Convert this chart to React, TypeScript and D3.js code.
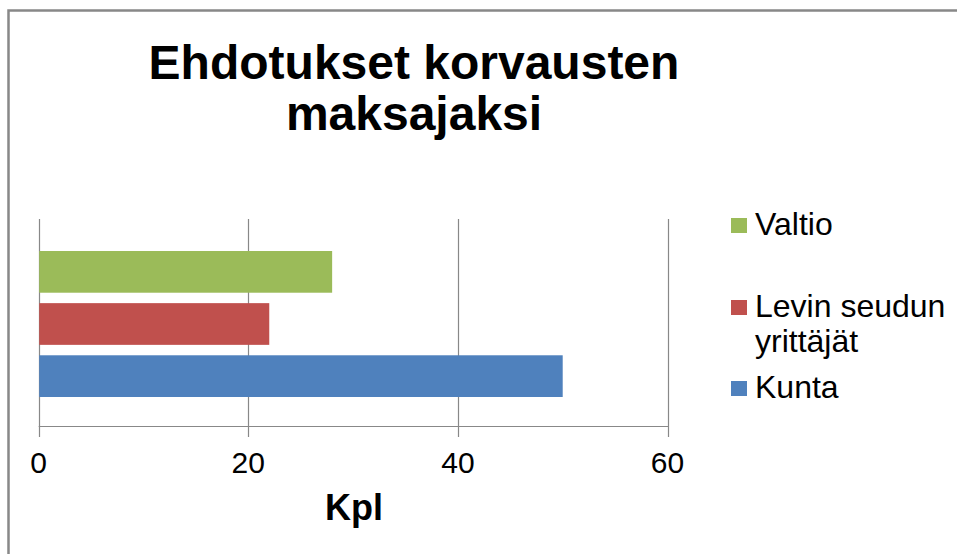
import React, { useRef, useEffect } from 'react';
import * as d3 from 'd3';

// data
const series = ['Valtio', 'Levin seudun yrittäjät', 'Kunta'];
const values = [28, 22, 50];
const colors = ['#9BBB59', '#C0504D', '#4F81BD'];
const legendLines = [['Valtio'], ['Levin seudun', 'yrittäjät'], ['Kunta']];
const xTicks = [0, 20, 40, 60];
const titleLines = ['Ehdotukset korvausten', 'maksajaksi'];
const axisTitle = 'Kpl';

export default function App() {
  const ref = useRef<SVGSVGElement>(null);

  useEffect(() => {
    const width = 957;
    const height = 554;
    const font = '"Liberation Sans", Arial, sans-serif';
    const plot = { left: 38.7, right: 667.5, top: 219, bottom: 426 };

    const svg = d3.select(ref.current);
    svg.selectAll('*').remove();

    svg.append('rect')
      .attr('width', width)
      .attr('height', height)
      .attr('fill', 'white');

    // outer chart border (only top and left show in the crop)
    svg.append('rect')
      .attr('x', 8.5)
      .attr('y', 10.5)
      .attr('width', width + 20)
      .attr('height', height + 20)
      .attr('fill', 'none')
      .attr('stroke', '#888')
      .attr('stroke-width', 2.5);

    const x = d3.scaleLinear().domain([0, 60]).range([plot.left, plot.right]);
    const y = d3.scaleBand().domain(series).range([251, 397]).paddingInner(0.2);

    // title
    svg.append('text')
      .attr('font-family', font)
      .attr('font-weight', 'bold')
      .attr('font-size', 48)
      .attr('text-anchor', 'middle')
      .selectAll('tspan')
      .data(titleLines)
      .enter()
      .append('tspan')
      .attr('x', 414)
      .attr('y', (d, i) => 79 + i * 51)
      .text(d => d);

    // gridlines + tick marks
    svg.append('g')
      .selectAll('line')
      .data(xTicks)
      .enter()
      .append('line')
      .attr('x1', d => Math.round(x(d)) + 0.5)
      .attr('x2', d => Math.round(x(d)) + 0.5)
      .attr('y1', plot.top)
      .attr('y2', plot.bottom + 11)
      .attr('stroke', '#888')
      .attr('stroke-width', 1.2);

    // bars
    svg.append('g')
      .selectAll('rect')
      .data(series)
      .enter()
      .append('rect')
      .attr('x', x(0) + 0.5)
      .attr('y', d => y(d)!)
      .attr('width', (d, i) => x(values[i]) - x(0) - 0.5)
      .attr('height', y.bandwidth())
      .attr('fill', (d, i) => colors[i]);

    // baseline axis
    svg.append('line')
      .attr('x1', plot.left)
      .attr('x2', plot.right + 0.5)
      .attr('y1', plot.bottom + 0.5)
      .attr('y2', plot.bottom + 0.5)
      .attr('stroke', '#888')
      .attr('stroke-width', 1.2);

    // tick labels
    svg.append('g')
      .selectAll('text')
      .data(xTicks)
      .enter()
      .append('text')
      .attr('x', d => x(d))
      .attr('y', 473)
      .attr('text-anchor', 'middle')
      .attr('font-family', font)
      .attr('font-size', 30)
      .attr('fill', '#000')
      .text(d => d);

    svg.append('text')
      .attr('x', 354)
      .attr('y', 520)
      .attr('text-anchor', 'middle')
      .attr('font-family', font)
      .attr('font-weight', 'bold')
      .attr('font-size', 36)
      .text(axisTitle);

    // legend
    const legendY = [235, 317, 398];
    const leg = svg.append('g')
      .selectAll('g')
      .data(series)
      .enter()
      .append('g')
      .attr('transform', (d, i) => `translate(731,${legendY[i]})`);

    leg.append('rect')
      .attr('x', 0)
      .attr('y', -17)
      .attr('width', 16)
      .attr('height', 15)
      .attr('fill', (d, i) => colors[i]);

    leg.append('text')
      .attr('font-family', font)
      .attr('font-size', 32)
      .attr('fill', '#000')
      .selectAll('tspan')
      .data((d, i) => legendLines[i])
      .enter()
      .append('tspan')
      .attr('x', 24)
      .attr('y', (d, j) => j * 35)
      .text(d => d);
  }, []);

  return (
    <div>
      <svg
        ref={ref}
        width={957}
        height={554}
        style={{ position: 'absolute', left: 0, top: 0, display: 'block' }}
      />
    </div>
  );
}
